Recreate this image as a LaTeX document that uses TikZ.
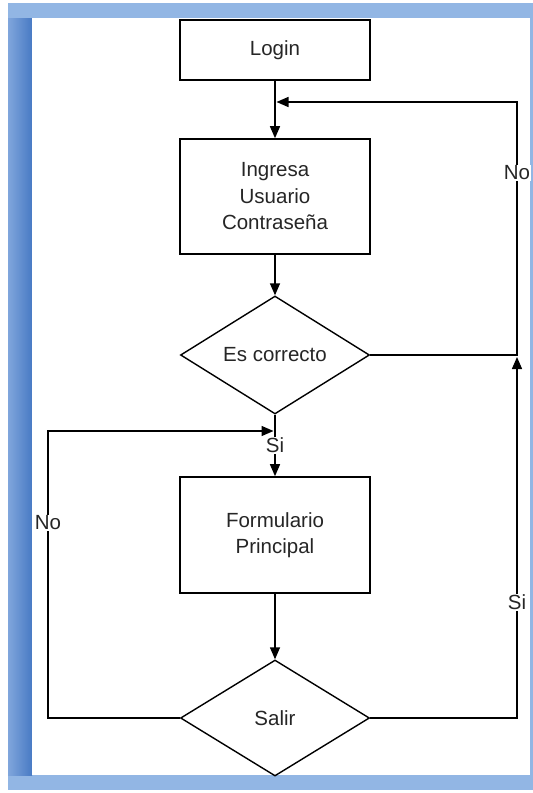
\documentclass[tikz,border=0pt]{standalone}
\usepackage{fontspec}
\setmainfont{Liberation Sans}
\usetikzlibrary{shapes.geometric}
\usetikzlibrary{arrows.meta}

\definecolor{marcoClaro}{RGB}{146,182,228}
\definecolor{marcoMedio}{RGB}{128,166,220}
\definecolor{marcoOscuro}{RGB}{72,122,196}

\tikzset{
    caja/.style={
        draw,
        line width=1.6pt,
        minimum width=190pt,
        inner sep=0pt,
        align=center,
        text=black!85,
        font=\fontsize{20.5}{26.5}\selectfont,
    },
    rombo/.style={
        draw,
        diamond,
        line width=1.4pt,
        minimum width=189pt,
        minimum height=116pt,
        inner sep=0pt,
        text=black!85,
        font=\fontsize{20.5}{26.5}\selectfont,
    },
    flecha/.style={line width=1.4pt, -{Triangle[length=12pt,width=10pt]}},
    etiqueta/.style={
        fill=white,
        inner sep=1pt,
        text=black!85,
        font=\fontsize{20.5}{24}\selectfont,
    },
}

\begin{document}
\begin{tikzpicture}[x=1pt, y=-1pt]

% Sheet with its blue frame
\useasboundingbox (0,0) rectangle (533,793);
\fill[white] (0,0) rectangle (533,793);
\fill[marcoClaro] (8,3) rectangle (533,790);
\shade[left color=marcoMedio, right color=marcoOscuro] (8,18) rectangle (32,775);
\fill[white] (32,18) rectangle (530,775);

% Steps of the flow
\node[caja, minimum height=60pt] (login) at (275,50) {Login};
\node[caja, minimum height=115pt] (ingresa) at (275,196.5) {Ingresa\\Usuario\\Contraseña};
\node[rombo] (correcto) at (275,355) {Es correcto};
\node[caja, minimum height=116pt] (formulario) at (275,535) {Formulario\\Principal};
\node[rombo] (salir) at (275,718) {Salir};

% Corners of the loops
\coordinate (vueltaNo) at (276.5,102);
\coordinate (esquinaNo) at (517,102);
\coordinate (cruceSi) at (517,357);
\coordinate (esquinaIzq) at (48,431);
\coordinate (vueltaSi) at (273.5,431);

% Straight arrows
\draw[flecha] (login) -- (ingresa);
\draw[flecha] (ingresa) -- (correcto);
\draw[flecha] (correcto) -- node[etiqueta] {Si} (formulario);
\draw[flecha] (formulario) -- (salir);

% Loops back
\draw[flecha] (correcto.east) -| node[etiqueta, pos=0.86] {No} (esquinaNo) -- (vueltaNo);
\draw[flecha] (salir.east) -| node[etiqueta, pos=0.66] {Si} (cruceSi);
\draw[flecha] (salir.west) -| node[etiqueta, pos=0.84] {No} (esquinaIzq) -- (vueltaSi);

\end{tikzpicture}
\end{document}
